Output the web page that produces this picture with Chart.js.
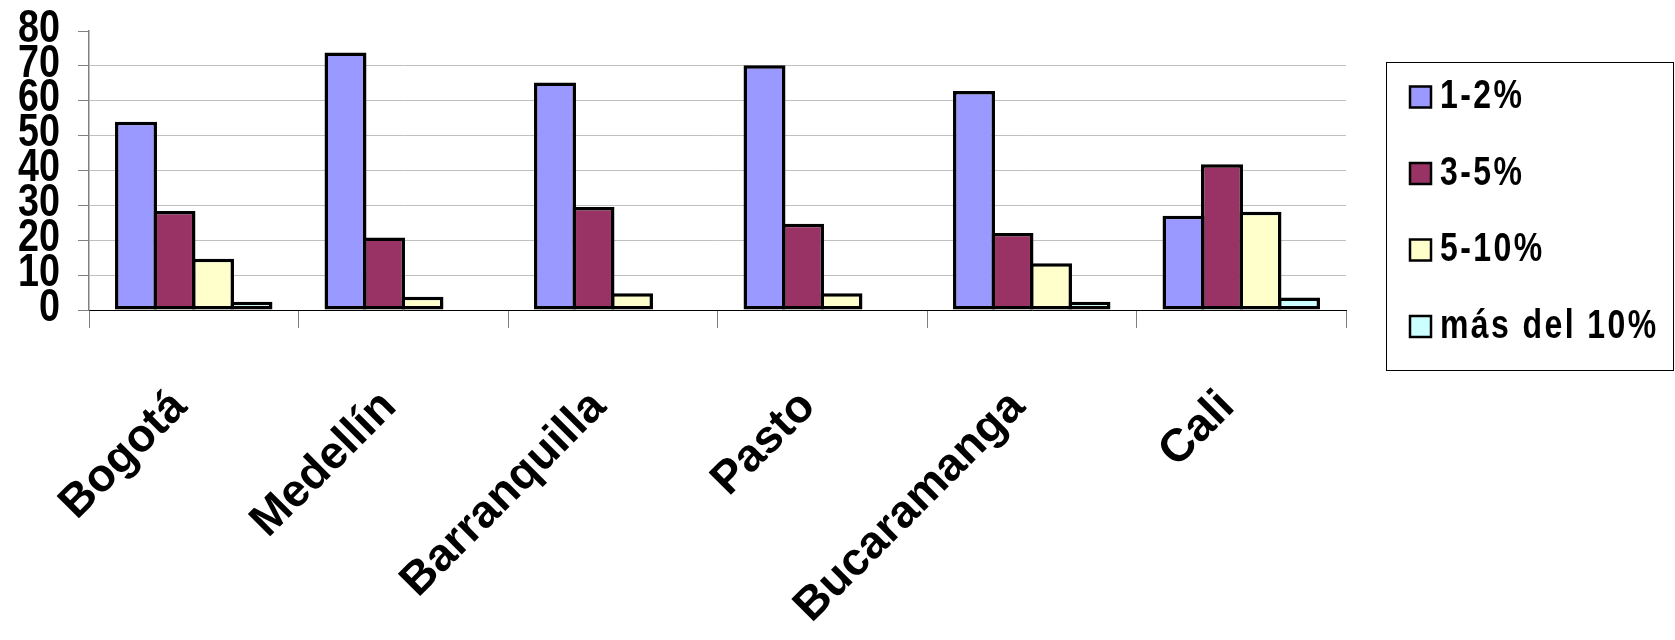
<!DOCTYPE html>
<html>
<head>
<meta charset="utf-8">
<script src="https://cdn.jsdelivr.net/npm/chart.js@4.4.1/dist/chart.umd.min.js"></script>
<style>
  html, body { margin: 0; padding: 0; background: #fff; }
  .chart-size { position: relative; width: 1675px; height: 640px; }
</style>
</head>
<body>
<div class="chart-size"><canvas id="chart" width="1675" height="640"></canvas></div>
<script>
// data
const categories = ['Bogotá', 'Medellín', 'Barranquilla', 'Pasto', 'Bucaramanga', 'Cali']
const seriesNames = ['1-2%', '3-5%', '5-10%', 'más del 10%']
const range1to2 = [54, 73.8, 65.2, 70.2, 62.8, 27]
const range3to5 = [28.4, 20.8, 29.5, 24.7, 22.1, 41.8]
const range5to10 = [14.7, 3.8, 4.8, 4.8, 13.4, 28.2]
const over10 = [2.4, 0, 0, 0, 2.4, 3.6]
const yTicks = [0, 10, 20, 30, 40, 50, 60, 70, 80]
const seriesColors = ['#9999ff', '#993366', '#ffffcc', '#ccffff']

const SANS = '"Liberation Sans", Arial, sans-serif'

// draws text squeezed horizontally (the original uses a narrow bold face)
function narrowText(ctx, text, x, y, squeeze) {
  ctx.save()
  ctx.translate(x, y)
  ctx.scale(squeeze, 1)
  ctx.fillText(text, 0, 0)
  ctx.restore()
}

// y tick labels, placed with the y scale's own tick positions
const narrowYLabels = {
  id: 'narrowYLabels',
  afterDraw(chart) {
    const scale = chart.scales.y
    const ctx = chart.ctx
    ctx.save()
    ctx.font = 'bold 46px ' + SANS
    ctx.fillStyle = '#000'
    ctx.textAlign = 'right'
    ctx.textBaseline = 'middle'
    scale.ticks.forEach((t, i) => {
      narrowText(ctx, String(t.value), scale.right - 29, scale.getPixelForTick(i) - 2, 0.82)
    })
    ctx.restore()
  }
}

// legend drawn as a framed box on the right, like the original
const boxLegend = {
  id: 'boxLegend',
  afterDraw(chart) {
    const ctx = chart.ctx
    ctx.save()
    ctx.strokeStyle = '#000'
    ctx.lineWidth = 1
    ctx.strokeRect(1386.5, 62.5, 287, 308)
    ctx.font = 'bold 40px ' + SANS
    ctx.letterSpacing = '3px'
    ctx.textBaseline = 'middle'
    chart.data.datasets.forEach((ds, i) => {
      const y = 97 + i * 76.5
      ctx.fillStyle = ds.backgroundColor
      ctx.fillRect(1410, y - 10.5, 21, 21)
      ctx.lineWidth = 2.5
      ctx.strokeRect(1410, y - 10.5, 21, 21)
      ctx.fillStyle = '#000'
      narrowText(ctx, ds.label, 1440, y, 0.8)
    })
    ctx.restore()
  }
}

const seriesValues = [range1to2, range3to5, range5to10, over10]

const canvas = document.getElementById('chart')
const chart = new Chart(canvas, {
  type: 'bar',
  data: {
    labels: categories,
    datasets: seriesNames.map((name, i) => ({
      label: name,
      data: seriesValues[i],
      backgroundColor: seriesColors[i],
      borderColor: '#000',
      borderWidth: 3.5,
      borderSkipped: false,
      // slight overlap so neighbouring borders merge into one line
      categoryPercentage: 0.735,
      barPercentage: 1.09,
    })),
  },
  options: {
    responsive: false,
    animation: false,
    layout: {padding: {top: 31, right: 329, left: 0, bottom: 0}},
    plugins: {legend: {display: false}, tooltip: {enabled: false}},
    scales: {
      x: {
        grid: {offset: true, drawOnChartArea: false, drawTicks: true, tickLength: 18, tickColor: '#808080'},
        border: {color: '#000', width: 1},
        ticks: {
          color: '#000',
          font: {family: SANS, size: 46, weight: 'bold'},
          minRotation: 45,
          maxRotation: 45,
          autoSkip: false,
          padding: 52,
          labelOffset: -14,
        },
        afterFit(scale) { scale.height = 330 },
      },
      y: {
        min: 0,
        max: 80,
        afterBuildTicks(scale) { scale.ticks = yTicks.map(v => ({value: v})) },
        ticks: {display: false},
        grid: {
          color: ctx => (ctx.tick && ctx.tick.value === 80) ? 'rgba(0,0,0,0)' : '#c0c0c0',
          tickColor: '#808080',
          tickLength: 11,
        },
        border: {color: '#808080', width: 1.5},
        afterFit(scale) { scale.width = 89 },
      },
    },
  },
  plugins: [narrowYLabels, boxLegend],
})
</script>
</body>
</html>
